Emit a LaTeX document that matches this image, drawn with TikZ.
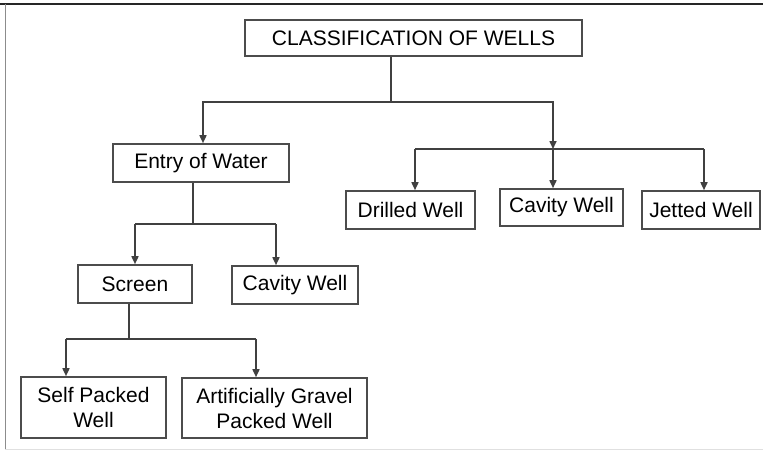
\documentclass[tikz,border=0pt]{standalone}
\usepackage{fontspec}
\setmainfont{Liberation Sans}
\usetikzlibrary{positioning,calc,arrows.meta}
\tikzset{font=\fontsize{21}{25}\selectfont}

\begin{document}
\begin{tikzpicture}[x=1pt,y=-1pt]
	\useasboundingbox (0,0) rectangle (763,450);
	\tikzstyle{every node}=[align=center, inner sep=1pt]
	\tikzstyle{box}=[draw=black!70, line width=1.6pt, fill=white]
	\tikzstyle{link}=[draw=black!75, line width=1.6pt]
	\tikzstyle{arr}=[link, -{Triangle[length=8pt,width=7pt]}]

	% frame
	\draw [black!85, line width=2pt] (0,4) -- (763,4);
	\draw [black!45, line width=1pt] (5,4) -- (5,450);
	\draw [black!12, line width=1pt] (5,449) -- (763,449);

	\node[box, minimum width=337pt, minimum height=36pt] (cow) at (413.5, 38) {CLASSIFICATION OF WELLS};

	\node[box, minimum width=176pt, minimum height=38pt] (eow) at (201, 163) {Entry of Water};
	\node[box, minimum width=129pt, minimum height=38pt] (dw) at (410.5, 210) {Drilled Well};
	\node[box, minimum width=123pt, minimum height=37pt] (cw1) at (561.5, 207.5) {Cavity Well};
	\node[box, minimum width=118pt, minimum height=38pt] (jw) at (701, 210) {Jetted Well};

	\node[box, minimum width=114pt, minimum height=38pt] (scr) at (135, 284) {Screen};
	\node[box, minimum width=126pt, minimum height=38pt] (cw2) at (295, 285) {Cavity Well};

	\node[box, minimum width=145pt, minimum height=61pt] (spw) at (93.5, 407.5) {Self Packed\\Well};
	\node[box, minimum width=185pt, minimum height=60pt] (agpw) at (274.5, 408) {Artificially Gravel\\Packed Well};

	% junctions
	\coordinate (j1) at (391, 102);
	\coordinate (j1l) at (203, 102);
	\coordinate (j1r) at (553, 149);
	\coordinate (j2l) at (415, 149);
	\coordinate (j2r) at (704, 149);
	\coordinate (j3) at (193, 224);
	\coordinate (j3l) at (135, 224);
	\coordinate (j3r) at (276, 224);
	\coordinate (j4) at (129, 339);
	\coordinate (j4l) at (66, 339);
	\coordinate (j4r) at (256, 339);

	\draw [link] (cow.south -| j1) -- (j1);
	\draw [arr] (j1) -| (eow.north -| j1l);
	\draw [arr] (j1) -| (j1r);
	\draw [link] (j2l) -- (j2r);
	\draw [arr] (j2l) -- (dw.north -| j2l);
	\draw [arr] (j1r) -- (cw1.north -| j1r);
	\draw [arr] (j2r) -- (jw.north -| j2r);

	\draw [link] (eow.south -| j3) -- (j3);
	\draw [link] (j3l) -- (j3r);
	\draw [arr] (j3l) -- (scr.north -| j3l);
	\draw [arr] (j3r) -- (cw2.north -| j3r);

	\draw [link] (scr.south -| j4) -- (j4);
	\draw [link] (j4l) -- (j4r);
	\draw [arr] (j4l) -- (spw.north -| j4l);
	\draw [arr] (j4r) -- (agpw.north -| j4r);
\end{tikzpicture}
\end{document}
